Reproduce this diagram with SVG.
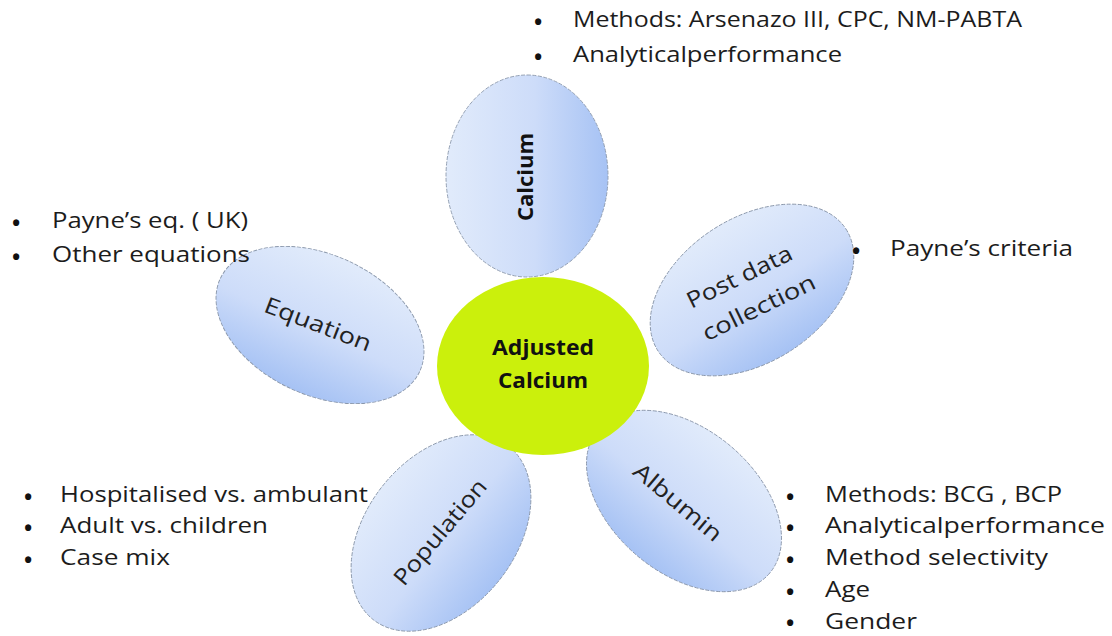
<svg xmlns="http://www.w3.org/2000/svg" width="1112" height="636" viewBox="0 0 1112 636">
<defs>
<linearGradient id="petal" x1="0" y1="0" x2="0" y2="1">
<stop offset="0" stop-color="#e1ebfb"/>
<stop offset="0.55" stop-color="#cddcf9"/>
<stop offset="1" stop-color="#a6c2f4"/>
</linearGradient>
<style>
.petal{fill:url(#petal);stroke:#8a97ab;stroke-width:0.9;stroke-dasharray:4 1.5}
.hub{fill:#cbf00c}
.lbl{font-family:"Open Sans","Liberation Sans",sans-serif;font-size:22.5px;fill:#222;text-anchor:middle}
.blbl{font-family:"Open Sans","Liberation Sans",sans-serif;font-size:22px;font-weight:bold;fill:#111;text-anchor:middle}
.bt{font-family:"Open Sans","Liberation Sans",sans-serif;font-size:22px;fill:#1c1c1c}
.bu{font-family:"Open Sans","Liberation Sans",sans-serif;font-size:22px;font-weight:bold;fill:#111}
</style>
</defs>
<rect width="1112" height="636" fill="#ffffff"/>
<g id="connectors"></g>

<g id="node-calcium">
<ellipse class="petal" cx="0" cy="0" rx="101" ry="81" transform="translate(527,176) rotate(-90)"/>
<text class="blbl" transform="translate(525,177) rotate(-90)" y="8" textLength="88" lengthAdjust="spacingAndGlyphs">Calcium</text>
</g>

<g id="node-post-data-collection">
<ellipse class="petal" cx="0" cy="0" rx="112" ry="72" transform="translate(752,290) rotate(-33)"/>
<g transform="translate(749,292) rotate(-26)">
<text class="lbl" x="-2" y="-10" textLength="115" lengthAdjust="spacingAndGlyphs">Post data</text>
<text class="lbl" x="2" y="26" textLength="123" lengthAdjust="spacingAndGlyphs">collection</text>
</g>
</g>

<g id="node-equation">
<ellipse class="petal" cx="0" cy="0" rx="110" ry="70" transform="translate(320,325) rotate(25)"/>
<text class="lbl" transform="translate(318,324) rotate(21)" y="8" textLength="113" lengthAdjust="spacingAndGlyphs">Equation</text>
</g>

<g id="node-population">
<ellipse class="petal" cx="0" cy="0" rx="110" ry="75" transform="translate(441,533) rotate(-52)"/>
<text class="lbl" transform="translate(440,532) rotate(-50)" y="8" textLength="131" lengthAdjust="spacingAndGlyphs">Population</text>
</g>

<g id="node-albumin">
<ellipse class="petal" cx="0" cy="0" rx="112" ry="72" transform="translate(684,501) rotate(40)"/>
<text class="lbl" transform="translate(678,502) rotate(40)" y="8" textLength="108" lengthAdjust="spacingAndGlyphs">Albumin</text>
</g>

<g id="node-adjusted-calcium">
<ellipse class="hub" cx="543" cy="366" rx="106" ry="89"/>
<text class="blbl" x="543" y="355" textLength="102" lengthAdjust="spacingAndGlyphs">Adjusted</text>
<text class="blbl" x="543" y="388" textLength="90" lengthAdjust="spacingAndGlyphs">Calcium</text>
</g>

<g id="notes-calcium">
<text class="bu" x="534" y="30">•</text>
<text class="bt" x="573" y="27" textLength="449" lengthAdjust="spacingAndGlyphs">Methods: Arsenazo III, CPC, NM-PABTA</text>
<text class="bu" x="534" y="65">•</text>
<text class="bt" x="573" y="62" textLength="269" lengthAdjust="spacingAndGlyphs">Analyticalperformance</text>
</g>

<g id="notes-equation">
<text class="bu" x="12" y="231">•</text>
<text class="bt" x="52" y="228" textLength="196" lengthAdjust="spacingAndGlyphs">Payne’s eq. ( UK)</text>
<text class="bu" x="12" y="265">•</text>
<text class="bt" x="52" y="262" textLength="198" lengthAdjust="spacingAndGlyphs">Other equations</text>
</g>

<g id="notes-post">
<text class="bu" x="852" y="259">•</text>
<text class="bt" x="890" y="256" textLength="183" lengthAdjust="spacingAndGlyphs">Payne’s criteria</text>
</g>

<g id="notes-population">
<text class="bu" x="24" y="505">•</text>
<text class="bt" x="60" y="502" textLength="308" lengthAdjust="spacingAndGlyphs">Hospitalised vs. ambulant</text>
<text class="bu" x="24" y="536">•</text>
<text class="bt" x="60" y="533" textLength="208" lengthAdjust="spacingAndGlyphs">Adult vs. children</text>
<text class="bu" x="24" y="568">•</text>
<text class="bt" x="60" y="565" textLength="110" lengthAdjust="spacingAndGlyphs">Case mix</text>
</g>

<g id="notes-albumin">
<text class="bu" x="786" y="505">•</text>
<text class="bt" x="825" y="502" textLength="237" lengthAdjust="spacingAndGlyphs">Methods: BCG , BCP</text>
<text class="bu" x="786" y="536">•</text>
<text class="bt" x="825" y="533" textLength="280" lengthAdjust="spacingAndGlyphs">Analyticalperformance</text>
<text class="bu" x="786" y="568">•</text>
<text class="bt" x="825" y="565" textLength="223" lengthAdjust="spacingAndGlyphs">Method selectivity</text>
<text class="bu" x="786" y="600">•</text>
<text class="bt" x="825" y="597" textLength="45" lengthAdjust="spacingAndGlyphs">Age</text>
<text class="bu" x="786" y="631">•</text>
<text class="bt" x="825" y="629" textLength="92" lengthAdjust="spacingAndGlyphs">Gender</text>
</g>
</svg>
